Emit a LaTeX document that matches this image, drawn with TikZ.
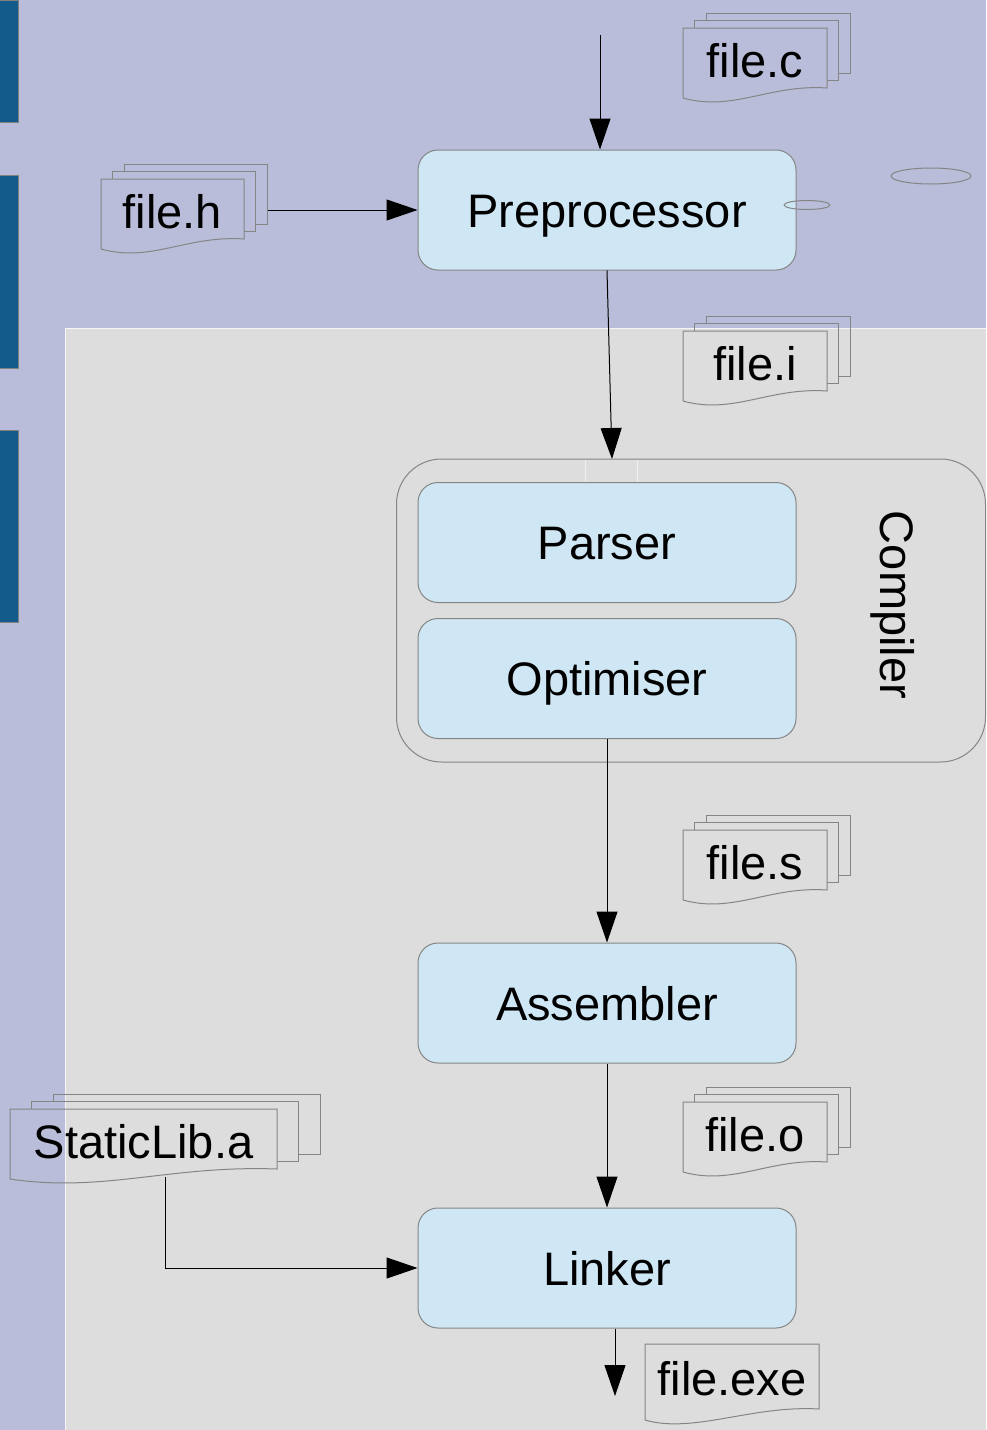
\documentclass[tikz,border=0pt]{standalone}
\usepackage{fontspec}
\setmainfont{Liberation Sans}
\usetikzlibrary{arrows.meta}
\definecolor{bglav}{HTML}{B9BDD9}
\definecolor{panelgrey}{HTML}{DDDDDD}
\definecolor{boxblue}{HTML}{CFE7F5}
\definecolor{barblue}{HTML}{135B8A}
\definecolor{edgegrey}{HTML}{858585}

% stack of pages: #1 name, #2 cx, #3 cy, #4 half width, #5 dx, #6 text
\newcommand\pagestack[6]{%
  \foreach \k in {2,1}{%
    \draw[docline]
      ({#2-#4+\k*#5},{#3-32-(\k-1)*7.5}) -- ({#2-#4+\k*#5},{#3-32-\k*7.5})
      -- ({#2+#4+\k*#5},{#3-32-\k*7.5}) -- ({#2+#4+\k*#5},{#3+28-\k*7.5})
      -- ({#2+#4+(\k-1)*#5},{#3+28-\k*7.5});
  }%
  \draw[docline] ({#2-#4},{#3+38}) -- ({#2-#4},{#3-32}) -- ({#2+#4},{#3-32}) -- ({#2+#4},{#3+28})
    .. controls ({#2+0.2*#4},{#3+24}) and ({#2-0.3*#4},{#3+52}) .. ({#2-#4},{#3+38});
  \node[doctext] (#1) at (#2,#3) {#6};
}

\begin{document}
\begin{tikzpicture}[x=1pt,y=-1pt,
  proc/.style={draw=edgegrey,fill=boxblue,rounded corners=20pt,line width=1pt,
    minimum width=378pt,minimum height=120pt,inner sep=0pt,
    text height=34pt,text depth=0pt,
    font=\fontsize{47}{56}\selectfont},
  docline/.style={draw=edgegrey,line width=1pt},
  doctext/.style={inner sep=0pt,text height=34pt,text depth=0pt,
    font=\fontsize{47}{56}\selectfont},
  flow/.style={line width=1pt,-{Triangle[length=31pt,width=21pt]}},
  faint/.style={draw=edgegrey,line width=1pt}]

% backgrounds
\useasboundingbox (0,0) rectangle (986,1430);
\fill[bglav] (0,0) rectangle (986,1430);
\fill[panelgrey] (65,328) rectangle (986,1430);
\draw[white!70!panelgrey,line width=1pt] (65.5,1430) -- (65.5,328.5) -- (986,328.5);
\foreach \a/\b in {0/122,175/368,430/622}{
  \draw[fill=barblue,draw=gray,line width=0.8pt] (-2,\a) rectangle (18,\b);
}

% compiler group
\node[draw=edgegrey,fill=panelgrey,rounded corners=45pt,line width=1pt,
  minimum width=589pt,minimum height=303pt] (comp) at (691,610.5) {};
\node[rotate=-90,font=\fontsize{47}{56}\selectfont] (complabel) at (893,605) {Compiler};
\draw[white!55!panelgrey,line width=1pt] (585,460) -- (585,482) (637,460) -- (637,482);

% process boxes
\node[proc] (pre) at (607,210) {Preprocessor};
\node[proc] (par) at (607,542.5) {Parser};
\node[proc] (opt) at (607,678.5) {Optimiser};
\node[proc] (asm) at (607,1003) {Assembler};
\node[proc] (lnk) at (607,1268) {Linker};

% files
\pagestack{filec}{755}{60}{72}{11.5}{file.c}
\pagestack{fileh}{172.5}{211}{71.5}{11.5}{file.h}
\pagestack{filei}{755}{363}{72}{11.5}{file.i}
\pagestack{files}{755}{862}{72}{11.5}{file.s}
\pagestack{fileo}{755}{1134}{72}{11.5}{file.o}
\pagestack{slib}{143.5}{1141}{133.5}{21.5}{StaticLib.a}
\draw[docline] (645,1420) -- (645,1344) -- (819,1344) -- (819,1409)
  .. controls (752,1405) and (693,1434) .. (645,1420);
\node[doctext] (fileexe) at (732,1378) {file.exe};

% connectors
\coordinate (srcin) at (600,35);
\coordinate (hout) at (268,210);
\coordinate (compin) at (612,459);
\coordinate (libout) at (165,1177);
\coordinate (exeout) at (615,1396);
\draw[flow] (srcin) -- (srcin |- pre.north);
\draw[flow] (hout) -- (pre.west);
\draw[flow] (pre.south) -- (compin);
\draw[flow] (opt.south) -- (asm.north);
\draw[flow] (asm.south) -- (lnk.north);
\draw[flow] (libout) |- (lnk.west);
\draw[flow] (exeout |- lnk.south) -- (exeout);

% stray ellipses
\draw[faint] (807,205) ellipse [x radius=23pt,y radius=4.5pt];
\draw[faint] (931,176) ellipse [x radius=40pt,y radius=8pt];
\end{tikzpicture}
\end{document}
